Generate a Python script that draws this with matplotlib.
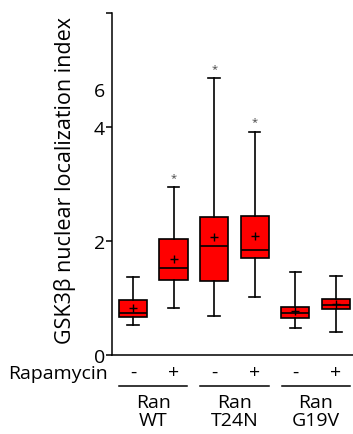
import matplotlib
matplotlib.use("Agg")
import matplotlib.pyplot as plt
import numpy as np

plt.rcParams["font.family"] = ["Open Sans", "DejaVu Sans"]

groups = ["Ran\nWT", "Ran\nT24N", "Ran\nG19V"]
rapamycin = ["-", "+", "-", "+", "-", "+"]
whislo = [0.52, 0.83, 0.69, 1.02, 0.47, 0.40]
q1 = [0.67, 1.32, 1.30, 1.71, 0.65, 0.80]
med = [0.74, 1.53, 1.92, 1.85, 0.73, 0.88]
q3 = [0.96, 2.04, 2.42, 2.43, 0.85, 0.99]
whishi = [1.36, 2.95, 6.58, 3.92, 1.46, 1.39]
means = [0.82, 1.68, 2.07, 2.09, 0.77, 0.89]
significant = [False, True, True, True, False, False]

yticks = [0, 2, 4, 6, 10]
yticklabels = ["0", "2", "4", "6", ""]

# compressed axis above 4
k = 1 / 3.0


def fwd(y):
    y = np.asarray(y, dtype=float)
    return np.where(y <= 4, y, 4 + (y - 4) * k)


def inv(y):
    y = np.asarray(y, dtype=float)
    return np.where(y <= 4, y, 4 + (y - 4) / k)


fig = plt.figure(figsize=(3.53, 4.35), dpi=100)
ax = fig.add_axes([0.317, 0.1816, 0.683, 0.7864])

pos = np.arange(1, 7)
stats = []
for i in range(6):
    stats.append(dict(whislo=whislo[i], q1=q1[i], med=med[i], q3=q3[i],
                      whishi=whishi[i], mean=means[i], fliers=[]))

ax.bxp(stats, positions=pos, widths=0.69, capwidths=0.28, patch_artist=True,
       showmeans=True,
       boxprops=dict(facecolor="#ff0000", edgecolor="black", linewidth=1.2),
       medianprops=dict(color="black", linewidth=1.2),
       whiskerprops=dict(color="black", linewidth=1.2),
       capprops=dict(color="black", linewidth=1.2),
       meanprops=dict(marker="+", markeredgecolor="black", markersize=6,
                      markeredgewidth=1.0))

for i in range(6):
    if significant[i]:
        ax.annotate("*", (pos[i], whishi[i]), xytext=(0, 3),
                    textcoords="offset points", ha="center", va="bottom",
                    fontsize=8, color="#444444")

ax.set_yscale("function", functions=(fwd, inv))
ax.set_ylim(0, 10)
ax.set_xlim(0.483, 6.42)
ax.set_yticks(yticks)
ax.set_yticklabels(yticklabels, fontsize=14)
ax.yaxis.get_major_ticks()[3].tick1line.set_visible(False)
ax.set_xticks([])
ax.yaxis.set_minor_locator(matplotlib.ticker.NullLocator())
ax.tick_params(axis="y", direction="out", length=4, width=1.1, pad=1)
for s in ["top", "right"]:
    ax.spines[s].set_visible(False)
for s in ["left", "bottom"]:
    ax.spines[s].set_linewidth(1.1)

fig.text(65 / 353, 1 - 181 / 435, "GSK3β nuclear localization index",
         rotation=90, ha="center", va="center", fontsize=15.5)

tr = ax.get_xaxis_transform()
ax.text(-0.017, -0.052, "Rapamycin", transform=ax.transAxes, ha="right",
        va="center", fontsize=14)
for i in range(6):
    ax.text(pos[i], -0.05, rapamycin[i], transform=tr, ha="center",
            va="center", fontsize=14)
for g in range(3):
    x0 = pos[2 * g] - 0.34
    x1 = pos[2 * g + 1] + 0.34
    ax.plot([x0, x1], [-0.09, -0.09], transform=tr, color="black",
            linewidth=1.1, clip_on=False)
    ax.text((x0 + x1) / 2, -0.11, groups[g], transform=tr, ha="center",
            va="top", fontsize=14, linespacing=1.0)

fig.savefig("out.png", dpi=100)
